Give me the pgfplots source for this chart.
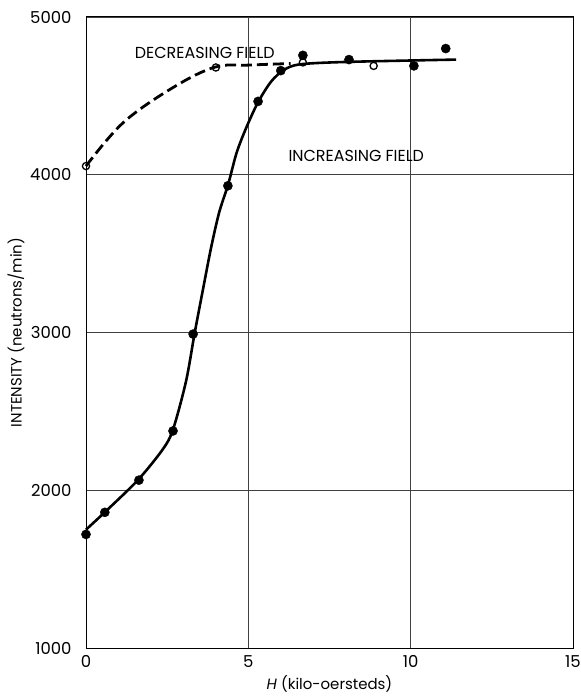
\documentclass[border=0pt]{standalone}
\usepackage{pgfplots}
\pgfplotsset{compat=1.18}
\usepackage{fontspec}
\setmainfont{Poppins}
\begin{document}
\begin{tikzpicture}
\begin{axis}[
  scale only axis,
  width=487bp, height=631bp,
  xmin=0, xmax=15, ymin=1000, ymax=5000,
  xtick={0,5,10,15}, ytick={1000,2000,3000,4000,5000},
  xticklabels={0,5,10,15},
  yticklabels={1000,2000,3000,4000,5000},
  grid=major,
  grid style={line width=0.6pt, black!75},
  major tick length=0pt,
  axis line style={line width=1pt},
  xticklabel style={font=\fontsize{16.5}{18}\selectfont, yshift=-4pt},
  yticklabel style={font=\fontsize{16.5}{18}\selectfont, xshift=-11pt},
  xlabel={\textit{H} (kilo-oersteds)},
  ylabel={INTENSITY (neutrons/min)},
  xlabel style={font=\fontsize{15}{17}\selectfont, yshift=-1pt},
  ylabel style={font=\fontsize{15}{17}\selectfont, yshift=-1pt},
  clip=false,
]
% increasing field curve
\addplot[black, line width=2.6pt, smooth, tension=0.5] coordinates {
 (0,1750) (0.6,1865) (1.6,2065) (2.37,2261) (2.68,2385) (3.08,2690)
 (3.35,3000) (3.6,3270) (3.85,3535) (4.1,3760) (4.38,3940) (4.64,4140)
 (4.94,4300) (5.3,4460) (5.7,4590) (6.1,4665) (6.6,4700) (8,4715) (11.4,4730)};
% decreasing field curve
\addplot[black, line width=2.8pt, smooth, tension=0.6, dash pattern=on 11pt off 5pt] coordinates {
 (0,4055) (1.15,4331) (2.69,4554) (3.97,4682) (5,4695) (6.3,4705)};
% increasing field data
\addplot[only marks, mark=*, mark size=4.6pt, mark options={fill=black, draw=black}] coordinates {
 (0,1720) (0.58,1860) (1.63,2064) (2.68,2376) (3.3,2990) (4.37,3930)
 (5.3,4465) (6.0,4660) (6.68,4757) (8.1,4730) (10.1,4690) (11.08,4800)};
% decreasing field data
\addplot[only marks, mark=o, mark size=3.6pt, mark options={fill=white, draw=black, line width=1.3pt}] coordinates {
 (0,4055) (4.0,4680) (6.68,4712) (8.86,4690)};
\node[anchor=base west, font=\fontsize{16}{18}\selectfont] at (axis cs:1.4,4735) {DECREASING FIELD};
\node[anchor=base west, font=\fontsize{16}{18}\selectfont] at (axis cs:6.13,4081) {INCREASING FIELD};
\end{axis}
\pgfresetboundingbox
\path (current axis.south west)++(-86bp,-48bp) coordinate (bl);
\path (current axis.north east)++(8bp,17bp) coordinate (tr);
\path[use as bounding box] (bl) rectangle (tr);
\end{tikzpicture}
\end{document}
